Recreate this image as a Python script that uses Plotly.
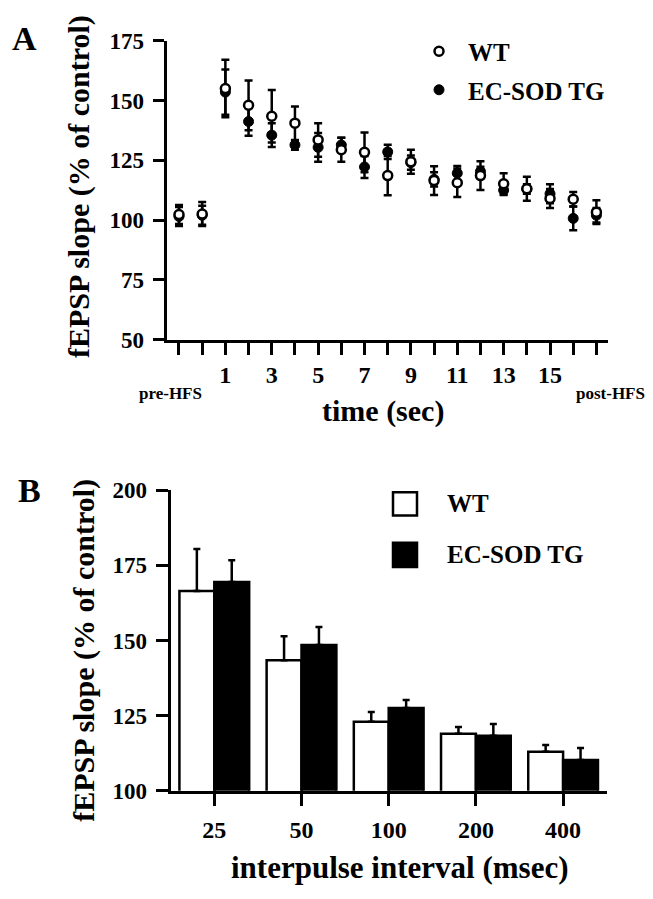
import plotly.graph_objects as go

# ---------------- Panel A data ----------------
time_points = ["pre1", "pre2"] + [str(i) for i in range(1, 17)] + ["post"]
time_ticktext = ["", ""] + [str(i) if i % 2 == 1 else "" for i in range(1, 17)] + [""]
wt_mean = [102.3, 102.5, 155.0, 148.0, 143.4, 140.5, 133.5, 129.4, 128.3, 118.6,
           124.4, 116.5, 115.6, 118.6, 115.2, 113.1, 109.0, 108.7, 103.3]
wt_err = [4.0, 5.0, 12.0, 10.4, 11.0, 7.0, 7.0, 5.0, 8.3, 8.2,
          5.0, 6.0, 6.0, 6.0, 4.4, 5.0, 4.0, 3.0, 5.0]
tg_mean = [101.5, 102.0, 153.5, 141.2, 135.5, 131.4, 130.4, 131.4, 122.2, 128.5,
           124.0, 117.0, 119.6, 120.3, 112.5, 113.0, 111.0, 100.7, 102.0]
tg_err = [4.0, 4.0, 9.5, 6.0, 5.0, 2.0, 6.0, 3.0, 4.6, 3.0,
          3.0, 3.0, 3.0, 2.0, 2.0, 2.0, 4.0, 5.0, 3.0]
y_ticks_a = [50, 75, 100, 125, 150, 175]

# ---------------- Panel B data ----------------
intervals = ["25", "50", "100", "200", "400"]
wt_b = [166.5, 143.4, 123.0, 119.0, 113.0]
wt_b_err = [14.0, 8.0, 3.2, 2.2, 2.2]
tg_b = [169.5, 148.5, 127.5, 118.3, 110.2]
tg_b_err = [7.2, 6.0, 2.7, 3.9, 4.0]
y_ticks_b = [100, 125, 150, 175, 200]

W, H = 653, 899
FAM = "Times New Roman, Liberation Serif, serif"


def fnt(size):
    return dict(family=FAM, size=size, color="black", weight="bold")


def px(x):
    return x / W


def py(y):
    return 1 - y / H


xa = list(range(len(time_points)))

fig = go.Figure()

fig.add_trace(go.Scatter(
    x=xa, y=tg_mean, mode="markers", name="EC-SOD TG", legendrank=2, legendgroup="tg",
    marker=dict(symbol="circle", size=10, color="black", line=dict(color="black", width=1)),
    error_y=dict(type="data", array=tg_err, color="black", thickness=2.5, width=4),
    xaxis="x", yaxis="y"))
fig.add_trace(go.Scatter(
    x=xa, y=wt_mean, mode="markers", name="WT", legendrank=1, legendgroup="wt",
    marker=dict(symbol="circle", size=9, color="white", line=dict(color="black", width=2.5)),
    error_y=dict(type="data", array=wt_err, color="black", thickness=2.5, width=4),
    xaxis="x", yaxis="y"))

fig.add_trace(go.Bar(
    x=intervals, y=wt_b, name="WT", showlegend=False,
    marker=dict(color="white", line=dict(color="black", width=2.5)),
    error_y=dict(type="data", array=wt_b_err, arrayminus=[0] * len(wt_b), symmetric=False,
                 color="black", thickness=2.5, width=3.5),
    xaxis="x2", yaxis="y2"))
fig.add_trace(go.Bar(
    x=intervals, y=tg_b, name="EC-SOD TG", showlegend=False,
    marker=dict(color="black", line=dict(color="black", width=2.5)),
    error_y=dict(type="data", array=tg_b_err, arrayminus=[0] * len(tg_b), symmetric=False,
                 color="black", thickness=2.5, width=3.5),
    xaxis="x2", yaxis="y2"))

axis_common = dict(showline=True, linewidth=3, linecolor="black", ticks="outside",
                   tickwidth=3, tickcolor="black", showgrid=False, zeroline=False)

fig.update_layout(
    width=W, height=H,
    margin=dict(l=0, r=0, t=0, b=0),
    paper_bgcolor="white", plot_bgcolor="white",
    font=fnt(22),
    barmode="group", bargap=0.2, bargroupgap=0,
    showlegend=True,
    legend=dict(x=px(410), y=py(17), xanchor="left", yanchor="top",
                font=fnt(25), bgcolor="rgba(0,0,0,0)", tracegroupgap=3,
                itemsizing="trace", itemwidth=48),
    xaxis=dict(domain=[px(166.7), px(608)], range=[-0.53, 18.5],
               tickmode="array", tickvals=xa, ticktext=time_ticktext,
               ticklen=12, tickfont=fnt(24), ticklabelstandoff=0, anchor="y",
               **axis_common),
    yaxis=dict(domain=[py(337), py(29.5)], range=[50, 175],
               tickmode="array", tickvals=y_ticks_a, ticklen=11,
               tickfont=fnt(23), ticklabelstandoff=4, anchor="x", **axis_common),
    xaxis2=dict(domain=[px(170.7), px(606.7)], type="category", range=[-0.5, 4.5],
                ticklen=12, tickfont=fnt(24), ticklabelstandoff=3, anchor="y2",
                **axis_common),
    yaxis2=dict(domain=[py(801), py(492)], range=[100, 200],
                tickmode="array", tickvals=y_ticks_b, ticklen=12,
                tickfont=fnt(23), ticklabelstandoff=4, anchor="x2", **axis_common),
)

annos = [
    dict(text="A", x=px(25), y=py(27), size=34),
    dict(text="B", x=px(29), y=py(492), size=34),
    dict(text="fEPSP slope (% of control)", x=px(79), y=py(180), size=30, angle=-90),
    dict(text="fEPSP slope (% of control)", x=px(84), y=py(657), size=30, angle=-90),
    dict(text="time (sec)", x=px(383), y=py(410), size=30),
    dict(text="interpulse interval (msec)", x=px(400), y=py(880), size=31),
    dict(text="pre-HFS", x=px(170), y=py(392), size=17),
    dict(text="post-HFS", x=px(647), y=py(392), size=17, xanchor="right"),
    dict(text="WT", x=px(445), y=py(506), size=25, xanchor="left"),
    dict(text="EC-SOD TG", x=px(445), y=py(558), size=25, xanchor="left"),
]
for a in annos:
    fig.add_annotation(
        text=a["text"], x=a["x"], y=a["y"], xref="paper", yref="paper",
        xanchor=a.get("xanchor", "center"), yanchor="middle",
        textangle=a.get("angle", 0), showarrow=False, font=fnt(a["size"]))

# manual legend symbols for panel B
fig.add_shape(type="rect", xref="paper", yref="paper",
              x0=px(393), x1=px(417), y0=py(518), y1=py(494),
              line=dict(color="black", width=2.5), fillcolor="white")
fig.add_shape(type="rect", xref="paper", yref="paper",
              x0=px(393), x1=px(417), y0=py(571), y1=py(546),
              line=dict(color="black", width=2.5), fillcolor="black")

fig.write_html("out.html",
               config={"displayModeBar": False, "staticPlot": True},
               post_script="document.body.style.margin='0';document.body.style.overflow='hidden';")
